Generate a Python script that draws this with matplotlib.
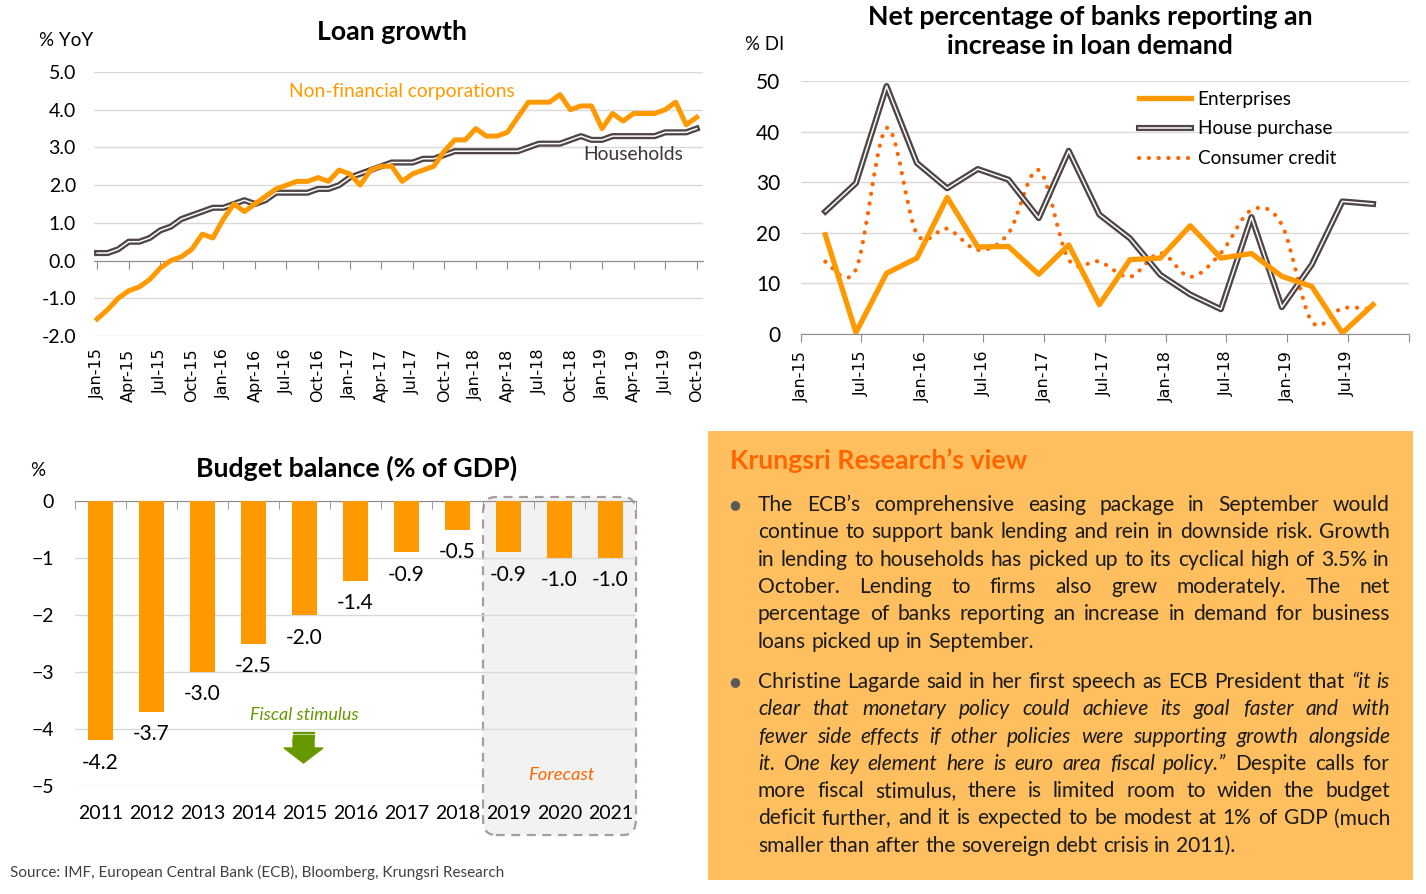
import matplotlib
matplotlib.use('Agg')
import matplotlib.pyplot as plt
import matplotlib.patheffects as pe
from matplotlib.patches import FancyBboxPatch, Rectangle, PathPatch, FancyArrow
from matplotlib.path import Path
from matplotlib.lines import Line2D
import matplotlib.dates as mdates
import numpy as np
import pandas as pd

plt.rcParams['font.family'] = ['Lato', 'DejaVu Sans']

W, H = 1426, 894

# ---------------- data ----------------
loan_months = pd.date_range('2015-01-01', '2019-10-01', freq='MS')
nfc = [-1.55, -1.3, -1.0, -0.8, -0.7, -0.5, -0.2, 0.0, 0.1, 0.3,
       0.7, 0.6, 1.1, 1.5, 1.3, 1.5, 1.7, 1.9, 2.0, 2.1,
       2.1, 2.2, 2.1, 2.4, 2.3, 2.0, 2.4, 2.5, 2.5, 2.1,
       2.3, 2.4, 2.5, 2.9, 3.2, 3.2, 3.5, 3.3, 3.3, 3.4,
       3.8, 4.2, 4.2, 4.2, 4.4, 4.0, 4.1, 4.1, 3.5, 3.9,
       3.7, 3.9, 3.9, 3.9, 4.0, 4.2, 3.6, 3.8]
households = [0.2, 0.2, 0.3, 0.5, 0.5, 0.6, 0.8, 0.9, 1.1, 1.2,
              1.3, 1.4, 1.4, 1.5, 1.6, 1.5, 1.6, 1.8, 1.8, 1.8,
              1.8, 1.9, 1.9, 2.0, 2.2, 2.3, 2.4, 2.5, 2.6, 2.6,
              2.6, 2.7, 2.7, 2.8, 2.9, 2.9, 2.9, 2.9, 2.9, 2.9,
              2.9, 3.0, 3.1, 3.1, 3.1, 3.2, 3.3, 3.2, 3.2, 3.3,
              3.3, 3.3, 3.3, 3.3, 3.4, 3.4, 3.4, 3.5]

survey_dates = pd.date_range('2015-03-15', periods=19, freq=pd.DateOffset(months=3))
enterprises = [19.6, 0.3, 12.0, 15.0, 27.0, 17.2, 17.3, 11.8, 17.6, 5.8,
               14.7, 15.0, 21.4, 15.0, 15.9, 11.4, 9.4, 0.2, 5.8]
house_purchase = [24.2, 29.8, 49.0, 33.8, 28.8, 32.6, 30.5, 22.9, 36.2, 23.6,
                  18.9, 11.7, 7.8, 4.9, 23.1, 5.3, 13.7, 26.2, 25.7]
consumer_credit = [14.3, 12.8, 40.7, 19.8, 20.8, 16.6, 19.9, 32.4, 14.7, 14.3,
                   11.3, 16.0, 11.3, 16.0, 24.5, 21.6, 2.5, 5.1, 4.9]

years = ['2011', '2012', '2013', '2014', '2015', '2016', '2017', '2018',
         '2019', '2020', '2021']
budget = [-4.2, -3.7, -3.0, -2.5, -2.0, -1.4, -0.9, -0.5, -0.9, -1.0, -1.0]
n_forecast = 3

para1 = [
    [("The ECB’s comprehensive easing package in September would", False)],
    [("continue to support bank lending and rein in downside risk. Growth", False)],
    [("in lending to households has picked up to its cyclical high of 3.5% in", False)],
    [("October. Lending to firms also grew moderately. The net", False)],
    [("percentage of banks reporting an increase in demand for business", False)],
    [("loans picked up in September.", False)],
]
para2 = [
    [("Christine Lagarde said in her first speech as ECB President that", False), ("“it is", True)],
    [("clear that monetary policy could achieve its goal faster and with", True)],
    [("fewer side effects if other policies were supporting growth alongside", True)],
    [("it. One key element here is euro area fiscal policy.”", True), ("Despite calls for", False)],
    [("more fiscal stimulus, there is limited room to widen the budget", False)],
    [("deficit further, and it is expected to be modest at 1% of GDP (much", False)],
    [("smaller than after the sovereign debt crisis in 2011).", False)],
]

ORANGE = '#FF9900'
RED_OR = '#FF6600'
DARK = '#4F4545'
GRID = '#D9D9D9'
AXIS = '#8C8C8C'
GREEN = '#669900'
TITLE_FS = 19.3

fig = plt.figure(figsize=(W / 100, H / 100), dpi=100)


def px_axes(l, t, r, b):
    return fig.add_axes([l / W, 1 - b / H, (r - l) / W, (b - t) / H])


def ftext(x, y, s, **kw):
    return fig.text(x / W, 1 - y / H, s, **kw)


def double_line(color, lw=1.1, outer=4.4):
    return dict(color='white', lw=lw, solid_joinstyle='round',
                path_effects=[pe.Stroke(linewidth=outer, foreground=color), pe.Normal()])


# ---------------- chart 1: loan growth ----------------
ax1 = px_axes(94, 72, 703, 336)
x1 = np.arange(len(loan_months))
ax1.plot(x1, households, zorder=3, **double_line(DARK))
ax1.plot(x1, nfc, color=ORANGE, lw=3.6, solid_joinstyle='round', zorder=4)
ax1.set_xlim(-0.3, 57.6)
ax1.set_ylim(-2, 5)
ax1.set_yticks(np.arange(-2, 6))
ax1.set_yticklabels([f'{v:.1f}' for v in np.arange(-2, 6)])
ax1.tick_params(axis='y', length=0, pad=13, labelsize=14)
ax1.grid(axis='y', color=GRID, lw=1)
ax1.set_axisbelow(True)
for s in ['left', 'right', 'top']:
    ax1.spines[s].set_visible(False)
ax1.spines['bottom'].set_position(('data', 0))
ax1.spines['bottom'].set_color(AXIS)
tick_idx = x1[::3]
ax1.set_xticks(tick_idx)
ax1.tick_params(axis='x', length=6, color=AXIS, labelbottom=False)
sec1 = ax1.secondary_xaxis('bottom')
sec1.set_xticks(tick_idx)
sec1.set_xticklabels([d.strftime('%b-%y') for d in loan_months[::3]],
                     rotation=90, family='DejaVu Sans', fontsize=11.5)
sec1.tick_params(length=0, pad=9)
sec1.spines['bottom'].set_visible(False)

ftext(392, 32, 'Loan growth', fontsize=TITLE_FS, fontweight='bold', ha='center', va='center')
ftext(66, 41, '% YoY', fontsize=13.5, ha='center', va='center')
ftext(402, 91, 'Non-financial corporations', fontsize=13.9, color=ORANGE,
      ha='center', va='center')
ftext(633, 155, 'Households', fontsize=13.9, color='#3F3636', ha='center', va='center')

# ---------------- chart 2: loan demand ----------------
ax2 = px_axes(801, 81, 1409, 334)
xd = mdates.date2num(survey_dates)
ax2.plot(survey_dates, enterprises, color=ORANGE, lw=3.8, solid_joinstyle='round',
         zorder=4, label='Enterprises')
ax2.plot(survey_dates, house_purchase, zorder=3, label='House purchase', **double_line(DARK))

# smoothed (Excel-style) curve for consumer credit
yc = np.array(consumer_credit)
pts = np.column_stack([xd, yc])
ext = np.vstack([pts[0], pts, pts[-1]])
verts = [tuple(pts[0])]
codes = [Path.MOVETO]
for i in range(len(pts) - 1):
    p0, p1, p2, p3 = ext[i], ext[i + 1], ext[i + 2], ext[i + 3]
    c1 = p1 + (p2 - p0) / 6
    c2 = p2 - (p3 - p1) / 6
    verts += [tuple(c1), tuple(c2), tuple(p2)]
    codes += [Path.CURVE4] * 3
cc_lw = 3.0
cc_ls = (0, (0.05, 2.3))
ax2.add_patch(PathPatch(Path(verts, codes), fill=False, capstyle='round', zorder=2,
                        edgecolor=RED_OR, lw=cc_lw, linestyle=cc_ls))
cc_handle = Line2D([], [], color=RED_OR, lw=cc_lw, linestyle=cc_ls,
                   dash_capstyle='round', label='Consumer credit')

ax2.set_xlim(pd.Timestamp('2015-01-01'), pd.Timestamp('2020-01-01'))
ax2.set_ylim(0, 50)
ax2.set_yticks(np.arange(0, 51, 10))
ax2.tick_params(axis='y', length=0, pad=15, labelsize=15)
ax2.grid(axis='y', color=GRID, lw=1)
ax2.set_axisbelow(True)
for s in ['left', 'right', 'top']:
    ax2.spines[s].set_visible(False)
ax2.spines['bottom'].set_color(AXIS)
half_years = pd.date_range('2015-01-01', '2020-01-01', freq='6MS')
ax2.set_xticks(half_years)
ax2.set_xticklabels([d.strftime('%b-%y') for d in half_years[:-1]] + [''],
                    rotation=90, family='DejaVu Sans', fontsize=11.5)
ax2.tick_params(axis='x', length=6, color=AXIS, pad=6)

handles = ax2.get_legend_handles_labels()[0] + [cc_handle]
ax2.legend(handles=handles, loc='upper left', bbox_to_anchor=(1129 / W, 1 - 81 / H),
           bbox_transform=fig.transFigure, frameon=False, fontsize=13.7,
           handlelength=2.75, handletextpad=0.35, labelspacing=0.68, borderpad=0)

ftext(1090, 17, 'Net percentage of banks reporting an', fontsize=TITLE_FS, fontweight='bold',
      ha='center', va='center')
ftext(1090, 46, 'increase in loan demand', fontsize=TITLE_FS, fontweight='bold',
      ha='center', va='center')
ftext(765, 44, '% DI', fontsize=13.4, ha='center', va='center')

# ---------------- chart 3: budget balance ----------------
ax3 = px_axes(75, 501, 636, 786)
xb = np.arange(len(years))
ax3.bar(xb, budget, width=0.5, color=ORANGE, zorder=3)
for xi, v in zip(xb, budget):
    ax3.annotate(f'{v:.1f}', (xi, v), xytext=(0, -9), textcoords='offset points',
                 ha='center', va='top', fontsize=15, zorder=5)
ax3.set_xlim(-0.5, len(years) - 0.5)
ax3.set_ylim(-5, 0)
ax3.set_yticks(np.arange(-5, 1))
ax3.tick_params(axis='y', length=0, pad=15, labelsize=14)
ax3.grid(axis='y', color=GRID, lw=1, zorder=1)
ax3.set_axisbelow(True)
ax3.set_xticks(xb)
ax3.set_xticklabels(years, fontsize=14)
ax3.set_xticks(np.arange(-0.5, len(years)), minor=True)
ax3.tick_params(axis='x', which='major', length=0, pad=14)
ax3.tick_params(axis='x', which='minor', bottom=False, top=True, direction='in',
                length=6, color=AXIS)
for s in ['left', 'right', 'bottom']:
    ax3.spines[s].set_visible(False)
ax3.spines['top'].set_color(AXIS)

f0 = len(years) - n_forecast - 0.5
box = FancyBboxPatch((f0, -5.86), n_forecast, 5.93,
                     boxstyle='round,pad=0,rounding_size=0.25', mutation_aspect=1.1,
                     fc='#F2F2F2', ec='#A89C9C', lw=1.6, ls=(0, (4, 3)),
                     clip_on=False, zorder=0.3)
ax3.add_patch(box)

ftext(357, 468, 'Budget balance (% of GDP)', fontsize=TITLE_FS, fontweight='bold',
      ha='center', va='center')
ftext(38, 470, '%', fontsize=13.5, ha='center', va='center')
ftext(304, 715, 'Fiscal stimulus', fontsize=13, style='italic', color=GREEN,
      ha='center', va='center')
ftext(561, 775, 'Forecast', fontsize=13.3, style='italic', color=RED_OR,
      ha='center', va='center')

fig.patches.append(FancyArrow(3.035, (H - 738) / 100, 0, -0.25, width=0.21,
                              head_width=0.39, head_length=0.15, length_includes_head=True,
                              color=GREEN, transform=fig.dpi_scale_trans))
for yy in (733, 736.5):
    fig.patches.append(Rectangle((2.93, (H - yy) / 100), 0.21, 0.014, color=GREEN,
                                 transform=fig.dpi_scale_trans))

ftext(10, 872, 'Source: IMF, European Central Bank (ECB), Bloomberg, Krungsri Research',
      fontsize=11, color='#404040', ha='left', va='center')

# ---------------- text panel ----------------
fig.patches.append(Rectangle((708 / W, 1 - 880 / H), 705 / W, 449 / H,
                             transform=fig.transFigure, fc='#FFBF5F', ec='none', zorder=0))
ftext(730, 461, 'Krungsri Research’s view', fontsize=TITLE_FS, fontweight='bold',
      color=RED_OR, ha='left', va='center')

renderer = fig.canvas.get_renderer()


def text_width(s, size, italic):
    t = fig.text(0, 0, s, fontsize=size, style='italic' if italic else 'normal')
    w = t.get_window_extent(renderer).width
    t.remove()
    return w


X0, X1 = 758, 1390
all_lines = para1 + para2
base = 13
nat = [text_width(' '.join(s for s, _ in segs), base, False) for segs in all_lines]
size = base * 630 / max(nat)


def draw_paragraph(lines, y_first, step=27.3):
    space = text_width('a a', size, False) - text_width('aa', size, False)
    for k, segs in enumerate(lines):
        words = [(w, it) for s, it in segs for w in s.split()]
        widths = [text_width(w, size, it) for w, it in words]
        if k == len(lines) - 1:
            gap = space
        else:
            gap = (X1 - X0 - sum(widths)) / (len(words) - 1)
        x = X0
        y = y_first + k * step + 6
        for (w, it), wd in zip(words, widths):
            ftext(x, y, w, fontsize=size, style='italic' if it else 'normal',
                  color='#1A1A1A', ha='left', va='baseline')
            x += wd + gap
    ftext(735, y_first, '●', family='DejaVu Sans', fontsize=9, color='#595959',
          ha='center', va='center')


draw_paragraph(para1, 505)
draw_paragraph(para2, 682)

fig.savefig('out.png', dpi=100)
